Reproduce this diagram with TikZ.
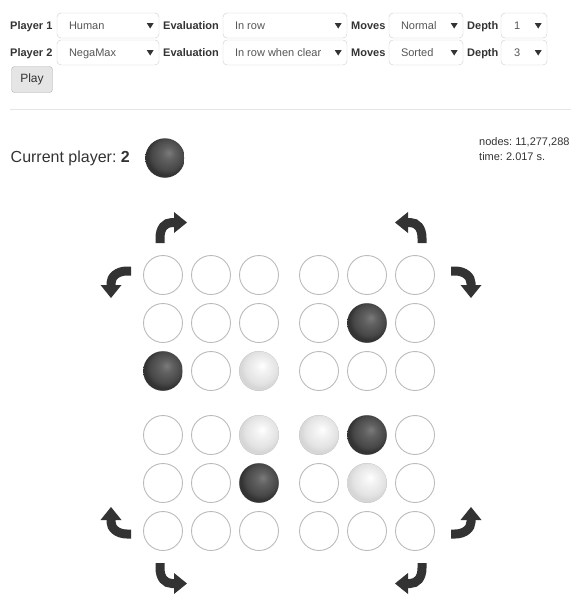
\documentclass[tikz,border=0pt]{standalone}
\usepackage{fontspec}
\setmainfont{Liberation Sans}
\usetikzlibrary{arrows.meta}
\frenchspacing

\definecolor{txt}{HTML}{333333}
\definecolor{seltxt}{HTML}{555555}
\definecolor{selline}{HTML}{CCCCCC}
\definecolor{holeline}{HTML}{BBBBBB}
\definecolor{rulegray}{HTML}{E5E5E5}

\pgfdeclareradialshading{darkstone}{\pgfpoint{5bp}{7bp}}{%
  color(0bp)=(black!52); color(8bp)=(black!62); color(20bp)=(black!72);
  color(25bp)=(black!80); color(50bp)=(black!80)}
\pgfdeclareradialshading{lightstone}{\pgfpoint{4bp}{7bp}}{%
  color(0bp)=(white); color(8bp)=(black!5); color(20bp)=(black!11);
  color(25bp)=(black!16); color(50bp)=(black!16)}

\begin{document}
\begin{tikzpicture}[
    x=1pt,
    y=-1pt,
    label/.style={
        anchor=base west,
        inner sep=0pt,
        font=\fontsize{11}{13}\selectfont\bfseries,
        text=txt
    },
    select/.style={
        rectangle,
        rounded corners=4pt,
        minimum height=25pt,
        inner sep=0pt,
        draw=selline,
        fill=white
    },
    choice/.style={
        anchor=base west,
        inner sep=0pt,
        font=\fontsize{11}{13}\selectfont,
        text=seltxt
    },
    hole/.style={
        circle,
        minimum size=39pt,
        inner sep=0pt,
        draw=holeline,
        line width=0.9pt,
        fill=white
    },
    darkstone/.style={
        circle,
        minimum size=39.5pt,
        inner sep=0pt,
        shading=darkstone
    },
    lightstone/.style={
        circle,
        minimum size=39.5pt,
        inner sep=0pt,
        shading=lightstone
    },
    turn/.style={
        draw=txt,
        line width=9pt,
        -{Triangle[length=13pt, width=21pt, line width=0pt]}
    },
    caret/.pic={\fill[txt] (-3.5,-2.5) -- (3.5,-2.5) -- (0,3) -- cycle;}
]
\useasboundingbox (0,0) rectangle (582,600);

% Player settings
\node[label] (p1) at (10,29) {Player 1};
\node[select, minimum width=102pt] (p1kind) at (108,25.5) {};
\node[choice] at ([xshift=12pt]p1kind.west |- p1.base) {Human};
\pic at ([xshift=-9pt]p1kind.east) {caret};
\node[label] (e1) at (163,29) {Evaluation};
\node[select, minimum width=124pt] (p1eval) at (285,25.5) {};
\node[choice] at ([xshift=12pt]p1eval.west |- e1.base) {In row};
\pic at ([xshift=-9pt]p1eval.east) {caret};
\node[label] (m1) at (351,29) {Moves};
\node[select, minimum width=74pt] (p1moves) at (426,25.5) {};
\node[choice] at ([xshift=12pt]p1moves.west |- m1.base) {Normal};
\pic at ([xshift=-9pt]p1moves.east) {caret};
\node[label] (d1) at (467,29) {Depth};
\node[select, minimum width=46pt] (p1depth) at (524,25.5) {};
\node[choice] at ([xshift=13pt]p1depth.west |- d1.base) {1};
\pic at ([xshift=-9pt]p1depth.east) {caret};

\node[label] (p2) at (10,56) {Player 2};
\node[select, minimum width=102pt] (p2kind) at (108,52.5) {};
\node[choice] at ([xshift=12pt]p2kind.west |- p2.base) {NegaMax};
\pic at ([xshift=-9pt]p2kind.east) {caret};
\node[label] (e2) at (163,56) {Evaluation};
\node[select, minimum width=124pt] (p2eval) at (285,52.5) {};
\node[choice] at ([xshift=12pt]p2eval.west |- e2.base) {In row when clear};
\pic at ([xshift=-9pt]p2eval.east) {caret};
\node[label] (m2) at (351,56) {Moves};
\node[select, minimum width=74pt] (p2moves) at (426,52.5) {};
\node[choice] at ([xshift=12pt]p2moves.west |- m2.base) {Sorted};
\pic at ([xshift=-9pt]p2moves.east) {caret};
\node[label] (d2) at (467,56) {Depth};
\node[select, minimum width=46pt] (p2depth) at (524,52.5) {};
\node[choice] at ([xshift=13pt]p2depth.west |- d2.base) {3};
\pic at ([xshift=-9pt]p2depth.east) {caret};

\node[rectangle, rounded corners=3pt, draw=black!30, fill=black!10,
    minimum width=41pt, minimum height=26pt, inner sep=0pt,
    font=\fontsize{12}{14}\selectfont, text=txt] (play) at (32,79.5) {Play};

\draw[rulegray] (10,109) -- (571,109);

% Status
\node[anchor=base west, inner sep=0pt, font=\fontsize{16}{19}\selectfont, text=txt]
    (current) at (10.5,162.3) {Current player: \textbf{2}};
\node[darkstone] (turnstone) at (165,158) {};
\node[anchor=base west, inner sep=0pt, font=\fontsize{11}{13}\selectfont, text=txt]
    (nodes) at (479,145) {nodes: 11,277,288};
\node[anchor=base west, inner sep=0pt, font=\fontsize{11}{13}\selectfont, text=txt]
    (time) at (479,160.7) {time: 2.017 s.};

% Board quadrants
\foreach \q/\x/\y in {tl/163/275, tr/319/275, bl/163/435, br/319/435}
    \foreach \i in {0,1,2}
        \foreach \j in {0,1,2}
            \node[hole] (\q\i\j) at ({\x+48*\i},{\y+48*\j}) {};

% Stones
\node[darkstone] at (tl02) {};
\node[lightstone] at (tl22) {};
\node[darkstone] at (tr11) {};
\node[lightstone] at (bl20) {};
\node[darkstone] at (bl21) {};
\node[lightstone] at (br00) {};
\node[darkstone] at (br10) {};
\node[lightstone] at (br11) {};

% Rotation arrows
\draw[turn] (160,243) -- (160,238) .. controls (160,228) and (165,222.5) .. (172,222.5) -- (187,222.5);
\draw[turn] (131,271) -- (127,271) .. controls (117,271) and (111,277) .. (111,283) -- (111,298);
\draw[turn] (422,243) -- (422,238) .. controls (422,228) and (417,222.5) .. (410,222.5) -- (395,222.5);
\draw[turn] (451,271) -- (455,271) .. controls (465,271) and (471,277) .. (471,283) -- (471,298);
\draw[turn] (131,534) -- (127,534) .. controls (117,534) and (111,528) .. (111,522) -- (111,507);
\draw[turn] (160,563) -- (160,568) .. controls (160,578) and (165,583.5) .. (172,583.5) -- (187,583.5);
\draw[turn] (451,534) -- (455,534) .. controls (465,534) and (471,528) .. (471,522) -- (471,507);
\draw[turn] (422,563) -- (422,568) .. controls (422,578) and (417,583.5) .. (410,583.5) -- (395,583.5);

\end{tikzpicture}
\end{document}
